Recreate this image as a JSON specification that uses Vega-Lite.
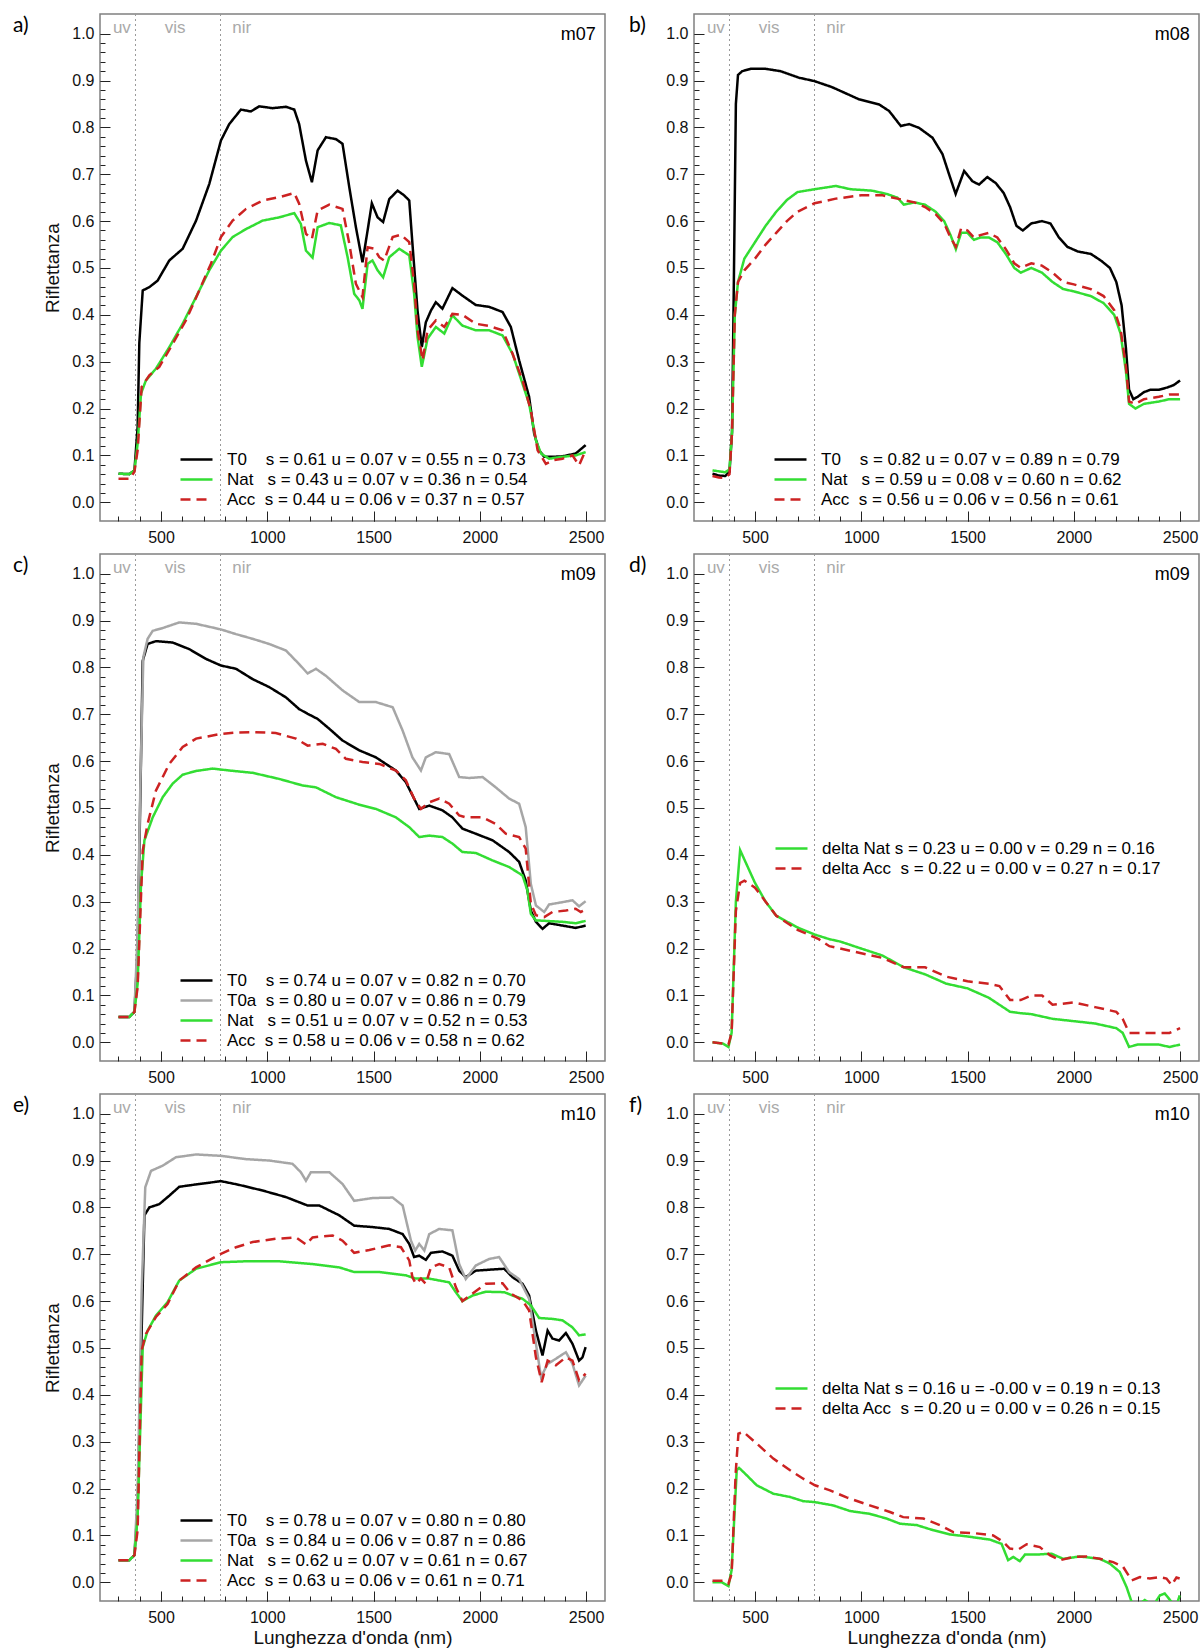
{
"$schema": "https://vega.github.io/schema/vega-lite/v6.json",
"background": "white",
"padding": {"left": 12, "top": 12, "right": 0, "bottom": 0},
"autosize": {"type": "pad"},
"bounds": "flush",
"columns": 2,
"spacing": {"row": 33, "column": 89},
"resolve": {"scale": {"x": "independent", "y": "independent", "color": "independent", "strokeDash": "independent"}},
"config": {
  "view": {"stroke": "#808080", "strokeWidth": 1.5},
  "font": "Liberation Sans",
  "text": {"font": "Liberation Sans"},
  "axis": {"domain": false, "grid": false, "tickColor": "#222", "tickWidth": 1, "labelFont": "Liberation Sans", "labelFontSize": 16, "labelColor": "#111", "titleFont": "Liberation Sans", "titleFontSize": 19, "titleFontWeight": "normal", "titleColor": "#111", "labelOverlap": false, "labelFlush": false}
},
"datasets": {
  "bnd": [{"b": 380}, {"b": 780}],
  "reg": [{"t": "uv", "x": 316}, {"t": "vis", "x": 566}, {"t": "nir", "x": 880}],
  "a": [
{"s":"T0","x":300,"y":0.061},{"s":"T0","x":351,"y":0.060},{"s":"T0","x":375,"y":0.068},{"s":"T0","x":390,"y":0.16},{"s":"T0","x":398,"y":0.34},{"s":"T0","x":414,"y":0.452},{"s":"T0","x":445,"y":0.459},{"s":"T0","x":484,"y":0.473},{"s":"T0","x":539,"y":0.516},{"s":"T0","x":602,"y":0.541},{"s":"T0","x":665,"y":0.601},{"s":"T0","x":727,"y":0.679},{"s":"T0","x":782,"y":0.772},{"s":"T0","x":821,"y":0.807},{"s":"T0","x":876,"y":0.838},{"s":"T0","x":923,"y":0.834},{"s":"T0","x":962,"y":0.845},{"s":"T0","x":1025,"y":0.841},{"s":"T0","x":1088,"y":0.844},{"s":"T0","x":1127,"y":0.838},{"s":"T0","x":1150,"y":0.807},{"s":"T0","x":1182,"y":0.729},{"s":"T0","x":1210,"y":0.683},{"s":"T0","x":1237,"y":0.751},{"s":"T0","x":1276,"y":0.779},{"s":"T0","x":1323,"y":0.775},{"s":"T0","x":1354,"y":0.765},{"s":"T0","x":1386,"y":0.672},{"s":"T0","x":1417,"y":0.587},{"s":"T0","x":1448,"y":0.512},{"s":"T0","x":1472,"y":0.580},{"s":"T0","x":1492,"y":0.638},{"s":"T0","x":1519,"y":0.608},{"s":"T0","x":1545,"y":0.598},{"s":"T0","x":1574,"y":0.647},{"s":"T0","x":1613,"y":0.665},{"s":"T0","x":1644,"y":0.655},{"s":"T0","x":1668,"y":0.644},{"s":"T0","x":1683,"y":0.552},{"s":"T0","x":1707,"y":0.409},{"s":"T0","x":1727,"y":0.331},{"s":"T0","x":1746,"y":0.384},{"s":"T0","x":1770,"y":0.409},{"s":"T0","x":1793,"y":0.427},{"s":"T0","x":1824,"y":0.413},{"s":"T0","x":1871,"y":0.457},{"s":"T0","x":1918,"y":0.441},{"s":"T0","x":1981,"y":0.421},{"s":"T0","x":2044,"y":0.417},{"s":"T0","x":2107,"y":0.406},{"s":"T0","x":2146,"y":0.374},{"s":"T0","x":2185,"y":0.303},{"s":"T0","x":2232,"y":0.225},{"s":"T0","x":2256,"y":0.146},{"s":"T0","x":2279,"y":0.111},{"s":"T0","x":2303,"y":0.097},{"s":"T0","x":2342,"y":0.097},{"s":"T0","x":2389,"y":0.098},{"s":"T0","x":2451,"y":0.104},{"s":"T0","x":2498,"y":0.122},
{"s":"Nat","x":300,"y":0.061},{"s":"Nat","x":351,"y":0.060},{"s":"Nat","x":375,"y":0.068},{"s":"Nat","x":390,"y":0.125},{"s":"Nat","x":406,"y":0.232},{"s":"Nat","x":429,"y":0.26},{"s":"Nat","x":476,"y":0.285},{"s":"Nat","x":539,"y":0.331},{"s":"Nat","x":602,"y":0.381},{"s":"Nat","x":665,"y":0.438},{"s":"Nat","x":727,"y":0.495},{"s":"Nat","x":782,"y":0.537},{"s":"Nat","x":837,"y":0.566},{"s":"Nat","x":900,"y":0.583},{"s":"Nat","x":978,"y":0.601},{"s":"Nat","x":1056,"y":0.608},{"s":"Nat","x":1127,"y":0.617},{"s":"Nat","x":1158,"y":0.594},{"s":"Nat","x":1182,"y":0.537},{"s":"Nat","x":1213,"y":0.522},{"s":"Nat","x":1237,"y":0.587},{"s":"Nat","x":1292,"y":0.596},{"s":"Nat","x":1346,"y":0.591},{"s":"Nat","x":1378,"y":0.523},{"s":"Nat","x":1409,"y":0.445},{"s":"Nat","x":1433,"y":0.431},{"s":"Nat","x":1448,"y":0.413},{"s":"Nat","x":1472,"y":0.509},{"s":"Nat","x":1495,"y":0.516},{"s":"Nat","x":1519,"y":0.495},{"s":"Nat","x":1545,"y":0.480},{"s":"Nat","x":1574,"y":0.523},{"s":"Nat","x":1621,"y":0.541},{"s":"Nat","x":1668,"y":0.527},{"s":"Nat","x":1691,"y":0.445},{"s":"Nat","x":1707,"y":0.353},{"s":"Nat","x":1727,"y":0.289},{"s":"Nat","x":1754,"y":0.349},{"s":"Nat","x":1793,"y":0.374},{"s":"Nat","x":1833,"y":0.36},{"s":"Nat","x":1871,"y":0.399},{"s":"Nat","x":1918,"y":0.377},{"s":"Nat","x":1981,"y":0.367},{"s":"Nat","x":2044,"y":0.367},{"s":"Nat","x":2107,"y":0.356},{"s":"Nat","x":2154,"y":0.317},{"s":"Nat","x":2201,"y":0.253},{"s":"Nat","x":2232,"y":0.210},{"s":"Nat","x":2264,"y":0.132},{"s":"Nat","x":2288,"y":0.104},{"s":"Nat","x":2326,"y":0.093},{"s":"Nat","x":2389,"y":0.097},{"s":"Nat","x":2451,"y":0.10},{"s":"Nat","x":2498,"y":0.107},
{"s":"Acc","x":300,"y":0.050},{"s":"Acc","x":351,"y":0.050},{"s":"Acc","x":375,"y":0.065},{"s":"Acc","x":390,"y":0.111},{"s":"Acc","x":409,"y":0.246},{"s":"Acc","x":445,"y":0.271},{"s":"Acc","x":492,"y":0.289},{"s":"Acc","x":555,"y":0.338},{"s":"Acc","x":617,"y":0.388},{"s":"Acc","x":680,"y":0.452},{"s":"Acc","x":735,"y":0.509},{"s":"Acc","x":782,"y":0.566},{"s":"Acc","x":837,"y":0.601},{"s":"Acc","x":900,"y":0.626},{"s":"Acc","x":978,"y":0.644},{"s":"Acc","x":1056,"y":0.651},{"s":"Acc","x":1127,"y":0.660},{"s":"Acc","x":1150,"y":0.637},{"s":"Acc","x":1182,"y":0.573},{"s":"Acc","x":1210,"y":0.562},{"s":"Acc","x":1237,"y":0.623},{"s":"Acc","x":1292,"y":0.635},{"s":"Acc","x":1354,"y":0.626},{"s":"Acc","x":1386,"y":0.552},{"s":"Acc","x":1417,"y":0.466},{"s":"Acc","x":1448,"y":0.438},{"s":"Acc","x":1472,"y":0.544},{"s":"Acc","x":1503,"y":0.541},{"s":"Acc","x":1527,"y":0.523},{"s":"Acc","x":1550,"y":0.516},{"s":"Acc","x":1590,"y":0.566},{"s":"Acc","x":1629,"y":0.571},{"s":"Acc","x":1668,"y":0.555},{"s":"Acc","x":1691,"y":0.466},{"s":"Acc","x":1707,"y":0.367},{"s":"Acc","x":1731,"y":0.303},{"s":"Acc","x":1754,"y":0.367},{"s":"Acc","x":1793,"y":0.388},{"s":"Acc","x":1833,"y":0.374},{"s":"Acc","x":1871,"y":0.402},{"s":"Acc","x":1918,"y":0.40},{"s":"Acc","x":1981,"y":0.381},{"s":"Acc","x":2044,"y":0.376},{"s":"Acc","x":2107,"y":0.367},{"s":"Acc","x":2154,"y":0.317},{"s":"Acc","x":2201,"y":0.26},{"s":"Acc","x":2240,"y":0.196},{"s":"Acc","x":2272,"y":0.111},{"s":"Acc","x":2311,"y":0.082},{"s":"Acc","x":2350,"y":0.09},{"s":"Acc","x":2389,"y":0.093},{"s":"Acc","x":2436,"y":0.10},{"s":"Acc","x":2467,"y":0.079},{"s":"Acc","x":2498,"y":0.111}
  ],
  "b": [
{"s":"T0","x":300,"y":0.061},{"s":"T0","x":330,"y":0.057},{"s":"T0","x":360,"y":0.056},{"s":"T0","x":380,"y":0.065},{"s":"T0","x":392,"y":0.15},{"s":"T0","x":400,"y":0.45},{"s":"T0","x":410,"y":0.85},{"s":"T0","x":420,"y":0.912},{"s":"T0","x":440,"y":0.92},{"s":"T0","x":480,"y":0.925},{"s":"T0","x":550,"y":0.925},{"s":"T0","x":620,"y":0.92},{"s":"T0","x":707,"y":0.906},{"s":"T0","x":778,"y":0.899},{"s":"T0","x":862,"y":0.886},{"s":"T0","x":989,"y":0.860},{"s":"T0","x":1084,"y":0.849},{"s":"T0","x":1131,"y":0.835},{"s":"T0","x":1186,"y":0.803},{"s":"T0","x":1225,"y":0.807},{"s":"T0","x":1272,"y":0.799},{"s":"T0","x":1335,"y":0.778},{"s":"T0","x":1382,"y":0.743},{"s":"T0","x":1413,"y":0.700},{"s":"T0","x":1444,"y":0.658},{"s":"T0","x":1484,"y":0.707},{"s":"T0","x":1523,"y":0.685},{"s":"T0","x":1554,"y":0.678},{"s":"T0","x":1593,"y":0.694},{"s":"T0","x":1633,"y":0.681},{"s":"T0","x":1670,"y":0.66},{"s":"T0","x":1700,"y":0.63},{"s":"T0","x":1730,"y":0.59},{"s":"T0","x":1760,"y":0.58},{"s":"T0","x":1800,"y":0.595},{"s":"T0","x":1850,"y":0.60},{"s":"T0","x":1890,"y":0.595},{"s":"T0","x":1930,"y":0.565},{"s":"T0","x":1970,"y":0.545},{"s":"T0","x":2020,"y":0.535},{"s":"T0","x":2080,"y":0.53},{"s":"T0","x":2130,"y":0.515},{"s":"T0","x":2170,"y":0.50},{"s":"T0","x":2200,"y":0.47},{"s":"T0","x":2225,"y":0.42},{"s":"T0","x":2245,"y":0.33},{"s":"T0","x":2260,"y":0.24},{"s":"T0","x":2280,"y":0.22},{"s":"T0","x":2300,"y":0.225},{"s":"T0","x":2330,"y":0.235},{"s":"T0","x":2360,"y":0.24},{"s":"T0","x":2400,"y":0.24},{"s":"T0","x":2440,"y":0.245},{"s":"T0","x":2470,"y":0.25},{"s":"T0","x":2500,"y":0.26},
{"s":"Nat","x":300,"y":0.068},{"s":"Nat","x":330,"y":0.066},{"s":"Nat","x":360,"y":0.064},{"s":"Nat","x":380,"y":0.07},{"s":"Nat","x":392,"y":0.15},{"s":"Nat","x":405,"y":0.40},{"s":"Nat","x":420,"y":0.47},{"s":"Nat","x":450,"y":0.52},{"s":"Nat","x":500,"y":0.555},{"s":"Nat","x":550,"y":0.59},{"s":"Nat","x":600,"y":0.62},{"s":"Nat","x":650,"y":0.645},{"s":"Nat","x":700,"y":0.662},{"s":"Nat","x":780,"y":0.668},{"s":"Nat","x":880,"y":0.675},{"s":"Nat","x":950,"y":0.668},{"s":"Nat","x":1050,"y":0.665},{"s":"Nat","x":1120,"y":0.658},{"s":"Nat","x":1170,"y":0.65},{"s":"Nat","x":1200,"y":0.635},{"s":"Nat","x":1250,"y":0.64},{"s":"Nat","x":1300,"y":0.635},{"s":"Nat","x":1350,"y":0.62},{"s":"Nat","x":1390,"y":0.60},{"s":"Nat","x":1420,"y":0.57},{"s":"Nat","x":1445,"y":0.54},{"s":"Nat","x":1470,"y":0.575},{"s":"Nat","x":1500,"y":0.575},{"s":"Nat","x":1530,"y":0.56},{"s":"Nat","x":1560,"y":0.565},{"s":"Nat","x":1600,"y":0.565},{"s":"Nat","x":1640,"y":0.555},{"s":"Nat","x":1680,"y":0.53},{"s":"Nat","x":1720,"y":0.50},{"s":"Nat","x":1750,"y":0.49},{"s":"Nat","x":1800,"y":0.50},{"s":"Nat","x":1850,"y":0.49},{"s":"Nat","x":1900,"y":0.47},{"s":"Nat","x":1950,"y":0.455},{"s":"Nat","x":2000,"y":0.45},{"s":"Nat","x":2080,"y":0.44},{"s":"Nat","x":2140,"y":0.425},{"s":"Nat","x":2190,"y":0.40},{"s":"Nat","x":2220,"y":0.36},{"s":"Nat","x":2245,"y":0.28},{"s":"Nat","x":2260,"y":0.21},{"s":"Nat","x":2290,"y":0.20},{"s":"Nat","x":2330,"y":0.21},{"s":"Nat","x":2400,"y":0.215},{"s":"Nat","x":2450,"y":0.22},{"s":"Nat","x":2500,"y":0.22},
{"s":"Acc","x":300,"y":0.056},{"s":"Acc","x":330,"y":0.053},{"s":"Acc","x":360,"y":0.052},{"s":"Acc","x":380,"y":0.06},{"s":"Acc","x":392,"y":0.15},{"s":"Acc","x":405,"y":0.40},{"s":"Acc","x":420,"y":0.47},{"s":"Acc","x":450,"y":0.495},{"s":"Acc","x":500,"y":0.52},{"s":"Acc","x":550,"y":0.55},{"s":"Acc","x":600,"y":0.575},{"s":"Acc","x":650,"y":0.60},{"s":"Acc","x":700,"y":0.62},{"s":"Acc","x":780,"y":0.638},{"s":"Acc","x":880,"y":0.648},{"s":"Acc","x":1000,"y":0.655},{"s":"Acc","x":1100,"y":0.655},{"s":"Acc","x":1200,"y":0.645},{"s":"Acc","x":1250,"y":0.64},{"s":"Acc","x":1300,"y":0.63},{"s":"Acc","x":1350,"y":0.615},{"s":"Acc","x":1390,"y":0.595},{"s":"Acc","x":1420,"y":0.565},{"s":"Acc","x":1445,"y":0.545},{"s":"Acc","x":1470,"y":0.585},{"s":"Acc","x":1500,"y":0.58},{"s":"Acc","x":1530,"y":0.565},{"s":"Acc","x":1560,"y":0.57},{"s":"Acc","x":1600,"y":0.575},{"s":"Acc","x":1640,"y":0.565},{"s":"Acc","x":1680,"y":0.54},{"s":"Acc","x":1720,"y":0.51},{"s":"Acc","x":1750,"y":0.50},{"s":"Acc","x":1800,"y":0.51},{"s":"Acc","x":1850,"y":0.505},{"s":"Acc","x":1900,"y":0.49},{"s":"Acc","x":1950,"y":0.47},{"s":"Acc","x":2000,"y":0.465},{"s":"Acc","x":2080,"y":0.455},{"s":"Acc","x":2140,"y":0.44},{"s":"Acc","x":2190,"y":0.41},{"s":"Acc","x":2220,"y":0.37},{"s":"Acc","x":2245,"y":0.29},{"s":"Acc","x":2260,"y":0.215},{"s":"Acc","x":2290,"y":0.21},{"s":"Acc","x":2330,"y":0.22},{"s":"Acc","x":2400,"y":0.225},{"s":"Acc","x":2450,"y":0.23},{"s":"Acc","x":2500,"y":0.23}
  ],
  "c": [
{"s":"T0","x":300,"y":0.054},{"s":"T0","x":351,"y":0.054},{"s":"T0","x":375,"y":0.065},{"s":"T0","x":390,"y":0.196},{"s":"T0","x":401,"y":0.48},{"s":"T0","x":414,"y":0.814},{"s":"T0","x":437,"y":0.85},{"s":"T0","x":476,"y":0.856},{"s":"T0","x":555,"y":0.853},{"s":"T0","x":633,"y":0.839},{"s":"T0","x":712,"y":0.818},{"s":"T0","x":782,"y":0.804},{"s":"T0","x":853,"y":0.797},{"s":"T0","x":931,"y":0.775},{"s":"T0","x":1009,"y":0.758},{"s":"T0","x":1088,"y":0.736},{"s":"T0","x":1150,"y":0.711},{"s":"T0","x":1190,"y":0.701},{"s":"T0","x":1237,"y":0.690},{"s":"T0","x":1292,"y":0.669},{"s":"T0","x":1354,"y":0.644},{"s":"T0","x":1433,"y":0.623},{"s":"T0","x":1511,"y":0.608},{"s":"T0","x":1605,"y":0.58},{"s":"T0","x":1652,"y":0.555},{"s":"T0","x":1683,"y":0.527},{"s":"T0","x":1715,"y":0.498},{"s":"T0","x":1762,"y":0.505},{"s":"T0","x":1824,"y":0.495},{"s":"T0","x":1871,"y":0.48},{"s":"T0","x":1918,"y":0.456},{"s":"T0","x":1981,"y":0.445},{"s":"T0","x":2060,"y":0.431},{"s":"T0","x":2138,"y":0.406},{"s":"T0","x":2185,"y":0.385},{"s":"T0","x":2216,"y":0.345},{"s":"T0","x":2240,"y":0.281},{"s":"T0","x":2264,"y":0.257},{"s":"T0","x":2295,"y":0.242},{"s":"T0","x":2326,"y":0.254},{"s":"T0","x":2389,"y":0.249},{"s":"T0","x":2451,"y":0.244},{"s":"T0","x":2498,"y":0.249},
{"s":"T0a","x":300,"y":0.054},{"s":"T0a","x":351,"y":0.054},{"s":"T0a","x":375,"y":0.065},{"s":"T0a","x":390,"y":0.232},{"s":"T0a","x":403,"y":0.552},{"s":"T0a","x":417,"y":0.822},{"s":"T0a","x":437,"y":0.861},{"s":"T0a","x":461,"y":0.878},{"s":"T0a","x":508,"y":0.884},{"s":"T0a","x":586,"y":0.896},{"s":"T0a","x":665,"y":0.893},{"s":"T0a","x":782,"y":0.881},{"s":"T0a","x":853,"y":0.871},{"s":"T0a","x":931,"y":0.861},{"s":"T0a","x":1009,"y":0.85},{"s":"T0a","x":1088,"y":0.836},{"s":"T0a","x":1150,"y":0.807},{"s":"T0a","x":1190,"y":0.787},{"s":"T0a","x":1229,"y":0.797},{"s":"T0a","x":1276,"y":0.782},{"s":"T0a","x":1354,"y":0.751},{"s":"T0a","x":1433,"y":0.726},{"s":"T0a","x":1511,"y":0.726},{"s":"T0a","x":1590,"y":0.715},{"s":"T0a","x":1637,"y":0.665},{"s":"T0a","x":1683,"y":0.608},{"s":"T0a","x":1723,"y":0.58},{"s":"T0a","x":1746,"y":0.608},{"s":"T0a","x":1793,"y":0.619},{"s":"T0a","x":1856,"y":0.615},{"s":"T0a","x":1903,"y":0.566},{"s":"T0a","x":1950,"y":0.564},{"s":"T0a","x":2013,"y":0.566},{"s":"T0a","x":2075,"y":0.544},{"s":"T0a","x":2138,"y":0.52},{"s":"T0a","x":2185,"y":0.509},{"s":"T0a","x":2216,"y":0.459},{"s":"T0a","x":2240,"y":0.338},{"s":"T0a","x":2264,"y":0.292},{"s":"T0a","x":2303,"y":0.278},{"s":"T0a","x":2326,"y":0.294},{"s":"T0a","x":2389,"y":0.299},{"s":"T0a","x":2436,"y":0.303},{"s":"T0a","x":2467,"y":0.29},{"s":"T0a","x":2498,"y":0.301},
{"s":"Nat","x":300,"y":0.054},{"s":"Nat","x":351,"y":0.054},{"s":"Nat","x":375,"y":0.065},{"s":"Nat","x":390,"y":0.125},{"s":"Nat","x":406,"y":0.338},{"s":"Nat","x":422,"y":0.431},{"s":"Nat","x":461,"y":0.48},{"s":"Nat","x":508,"y":0.523},{"s":"Nat","x":555,"y":0.552},{"s":"Nat","x":602,"y":0.571},{"s":"Nat","x":665,"y":0.579},{"s":"Nat","x":743,"y":0.584},{"s":"Nat","x":821,"y":0.58},{"s":"Nat","x":931,"y":0.575},{"s":"Nat","x":1056,"y":0.562},{"s":"Nat","x":1166,"y":0.548},{"s":"Nat","x":1229,"y":0.544},{"s":"Nat","x":1323,"y":0.523},{"s":"Nat","x":1433,"y":0.507},{"s":"Nat","x":1511,"y":0.498},{"s":"Nat","x":1605,"y":0.48},{"s":"Nat","x":1668,"y":0.459},{"s":"Nat","x":1715,"y":0.438},{"s":"Nat","x":1762,"y":0.441},{"s":"Nat","x":1824,"y":0.438},{"s":"Nat","x":1871,"y":0.424},{"s":"Nat","x":1918,"y":0.406},{"s":"Nat","x":1981,"y":0.404},{"s":"Nat","x":2060,"y":0.388},{"s":"Nat","x":2138,"y":0.374},{"s":"Nat","x":2201,"y":0.356},{"s":"Nat","x":2224,"y":0.324},{"s":"Nat","x":2240,"y":0.274},{"s":"Nat","x":2264,"y":0.26},{"s":"Nat","x":2311,"y":0.259},{"s":"Nat","x":2389,"y":0.257},{"s":"Nat","x":2451,"y":0.254},{"s":"Nat","x":2498,"y":0.259},
{"s":"Acc","x":300,"y":0.054},{"s":"Acc","x":351,"y":0.054},{"s":"Acc","x":375,"y":0.065},{"s":"Acc","x":390,"y":0.118},{"s":"Acc","x":414,"y":0.409},{"s":"Acc","x":437,"y":0.466},{"s":"Acc","x":476,"y":0.537},{"s":"Acc","x":539,"y":0.594},{"s":"Acc","x":602,"y":0.63},{"s":"Acc","x":665,"y":0.648},{"s":"Acc","x":782,"y":0.658},{"s":"Acc","x":853,"y":0.661},{"s":"Acc","x":931,"y":0.662},{"s":"Acc","x":1040,"y":0.66},{"s":"Acc","x":1135,"y":0.648},{"s":"Acc","x":1190,"y":0.633},{"s":"Acc","x":1261,"y":0.637},{"s":"Acc","x":1323,"y":0.626},{"s":"Acc","x":1370,"y":0.605},{"s":"Acc","x":1448,"y":0.598},{"s":"Acc","x":1527,"y":0.594},{"s":"Acc","x":1605,"y":0.58},{"s":"Acc","x":1652,"y":0.559},{"s":"Acc","x":1691,"y":0.52},{"s":"Acc","x":1723,"y":0.498},{"s":"Acc","x":1762,"y":0.512},{"s":"Acc","x":1809,"y":0.52},{"s":"Acc","x":1856,"y":0.509},{"s":"Acc","x":1903,"y":0.484},{"s":"Acc","x":1934,"y":0.48},{"s":"Acc","x":2013,"y":0.48},{"s":"Acc","x":2075,"y":0.466},{"s":"Acc","x":2122,"y":0.445},{"s":"Acc","x":2185,"y":0.438},{"s":"Acc","x":2216,"y":0.413},{"s":"Acc","x":2240,"y":0.296},{"s":"Acc","x":2264,"y":0.271},{"s":"Acc","x":2303,"y":0.267},{"s":"Acc","x":2342,"y":0.278},{"s":"Acc","x":2405,"y":0.281},{"s":"Acc","x":2451,"y":0.285},{"s":"Acc","x":2475,"y":0.278},{"s":"Acc","x":2498,"y":0.283}
  ],
  "d": [
{"s":"dNat","x":300,"y":0},{"s":"dNat","x":350,"y":-0.003},{"s":"dNat","x":375,"y":-0.01},{"s":"dNat","x":390,"y":0.02},{"s":"dNat","x":410,"y":0.3},{"s":"dNat","x":430,"y":0.41},{"s":"dNat","x":450,"y":0.39},{"s":"dNat","x":500,"y":0.34},{"s":"dNat","x":550,"y":0.30},{"s":"dNat","x":600,"y":0.27},{"s":"dNat","x":700,"y":0.245},{"s":"dNat","x":780,"y":0.23},{"s":"dNat","x":850,"y":0.22},{"s":"dNat","x":900,"y":0.215},{"s":"dNat","x":1000,"y":0.20},{"s":"dNat","x":1100,"y":0.185},{"s":"dNat","x":1200,"y":0.16},{"s":"dNat","x":1300,"y":0.145},{"s":"dNat","x":1400,"y":0.125},{"s":"dNat","x":1500,"y":0.115},{"s":"dNat","x":1600,"y":0.095},{"s":"dNat","x":1700,"y":0.065},{"s":"dNat","x":1750,"y":0.062},{"s":"dNat","x":1800,"y":0.06},{"s":"dNat","x":1900,"y":0.05},{"s":"dNat","x":2000,"y":0.045},{"s":"dNat","x":2100,"y":0.04},{"s":"dNat","x":2200,"y":0.03},{"s":"dNat","x":2230,"y":0.02},{"s":"dNat","x":2260,"y":-0.01},{"s":"dNat","x":2300,"y":-0.005},{"s":"dNat","x":2400,"y":-0.005},{"s":"dNat","x":2450,"y":-0.01},{"s":"dNat","x":2500,"y":-0.005},
{"s":"dAcc","x":300,"y":0},{"s":"dAcc","x":350,"y":-0.003},{"s":"dAcc","x":375,"y":-0.005},{"s":"dAcc","x":390,"y":0.02},{"s":"dAcc","x":410,"y":0.28},{"s":"dAcc","x":430,"y":0.34},{"s":"dAcc","x":450,"y":0.345},{"s":"dAcc","x":500,"y":0.33},{"s":"dAcc","x":550,"y":0.30},{"s":"dAcc","x":600,"y":0.27},{"s":"dAcc","x":700,"y":0.24},{"s":"dAcc","x":800,"y":0.22},{"s":"dAcc","x":850,"y":0.205},{"s":"dAcc","x":900,"y":0.2},{"s":"dAcc","x":1000,"y":0.19},{"s":"dAcc","x":1100,"y":0.18},{"s":"dAcc","x":1200,"y":0.16},{"s":"dAcc","x":1300,"y":0.16},{"s":"dAcc","x":1400,"y":0.14},{"s":"dAcc","x":1500,"y":0.13},{"s":"dAcc","x":1600,"y":0.125},{"s":"dAcc","x":1650,"y":0.12},{"s":"dAcc","x":1700,"y":0.09},{"s":"dAcc","x":1750,"y":0.09},{"s":"dAcc","x":1800,"y":0.10},{"s":"dAcc","x":1850,"y":0.1},{"s":"dAcc","x":1900,"y":0.08},{"s":"dAcc","x":2000,"y":0.085},{"s":"dAcc","x":2100,"y":0.075},{"s":"dAcc","x":2200,"y":0.065},{"s":"dAcc","x":2230,"y":0.05},{"s":"dAcc","x":2260,"y":0.02},{"s":"dAcc","x":2300,"y":0.02},{"s":"dAcc","x":2400,"y":0.02},{"s":"dAcc","x":2450,"y":0.02},{"s":"dAcc","x":2500,"y":0.03}
  ],
  "e": [
{"s":"T0","x":300,"y":0.047},{"s":"T0","x":351,"y":0.047},{"s":"T0","x":375,"y":0.058},{"s":"T0","x":390,"y":0.16},{"s":"T0","x":406,"y":0.48},{"s":"T0","x":422,"y":0.783},{"s":"T0","x":445,"y":0.80},{"s":"T0","x":492,"y":0.807},{"s":"T0","x":539,"y":0.825},{"s":"T0","x":586,"y":0.844},{"s":"T0","x":665,"y":0.849},{"s":"T0","x":782,"y":0.856},{"s":"T0","x":868,"y":0.848},{"s":"T0","x":978,"y":0.836},{"s":"T0","x":1088,"y":0.822},{"s":"T0","x":1150,"y":0.811},{"s":"T0","x":1190,"y":0.804},{"s":"T0","x":1245,"y":0.804},{"s":"T0","x":1339,"y":0.783},{"s":"T0","x":1409,"y":0.761},{"s":"T0","x":1495,"y":0.758},{"s":"T0","x":1574,"y":0.754},{"s":"T0","x":1637,"y":0.743},{"s":"T0","x":1668,"y":0.722},{"s":"T0","x":1691,"y":0.694},{"s":"T0","x":1715,"y":0.697},{"s":"T0","x":1746,"y":0.688},{"s":"T0","x":1770,"y":0.703},{"s":"T0","x":1824,"y":0.706},{"s":"T0","x":1871,"y":0.697},{"s":"T0","x":1903,"y":0.665},{"s":"T0","x":1934,"y":0.651},{"s":"T0","x":1981,"y":0.665},{"s":"T0","x":2044,"y":0.667},{"s":"T0","x":2115,"y":0.669},{"s":"T0","x":2154,"y":0.651},{"s":"T0","x":2201,"y":0.637},{"s":"T0","x":2232,"y":0.612},{"s":"T0","x":2264,"y":0.537},{"s":"T0","x":2295,"y":0.484},{"s":"T0","x":2319,"y":0.537},{"s":"T0","x":2342,"y":0.52},{"s":"T0","x":2373,"y":0.516},{"s":"T0","x":2405,"y":0.532},{"s":"T0","x":2436,"y":0.509},{"s":"T0","x":2467,"y":0.473},{"s":"T0","x":2483,"y":0.48},{"s":"T0","x":2498,"y":0.502},
{"s":"T0a","x":300,"y":0.047},{"s":"T0a","x":351,"y":0.047},{"s":"T0a","x":375,"y":0.058},{"s":"T0a","x":390,"y":0.196},{"s":"T0a","x":409,"y":0.623},{"s":"T0a","x":426,"y":0.843},{"s":"T0a","x":453,"y":0.878},{"s":"T0a","x":508,"y":0.889},{"s":"T0a","x":570,"y":0.907},{"s":"T0a","x":665,"y":0.913},{"s":"T0a","x":782,"y":0.91},{"s":"T0a","x":900,"y":0.903},{"s":"T0a","x":1009,"y":0.9},{"s":"T0a","x":1119,"y":0.893},{"s":"T0a","x":1158,"y":0.875},{"s":"T0a","x":1182,"y":0.857},{"s":"T0a","x":1205,"y":0.875},{"s":"T0a","x":1292,"y":0.875},{"s":"T0a","x":1354,"y":0.85},{"s":"T0a","x":1409,"y":0.814},{"s":"T0a","x":1495,"y":0.82},{"s":"T0a","x":1590,"y":0.821},{"s":"T0a","x":1637,"y":0.804},{"s":"T0a","x":1676,"y":0.729},{"s":"T0a","x":1696,"y":0.708},{"s":"T0a","x":1715,"y":0.722},{"s":"T0a","x":1739,"y":0.708},{"s":"T0a","x":1762,"y":0.743},{"s":"T0a","x":1809,"y":0.754},{"s":"T0a","x":1871,"y":0.751},{"s":"T0a","x":1903,"y":0.679},{"s":"T0a","x":1934,"y":0.647},{"s":"T0a","x":1981,"y":0.676},{"s":"T0a","x":2044,"y":0.69},{"s":"T0a","x":2091,"y":0.694},{"s":"T0a","x":2138,"y":0.662},{"s":"T0a","x":2185,"y":0.647},{"s":"T0a","x":2232,"y":0.605},{"s":"T0a","x":2264,"y":0.509},{"s":"T0a","x":2288,"y":0.438},{"s":"T0a","x":2319,"y":0.466},{"s":"T0a","x":2358,"y":0.477},{"s":"T0a","x":2405,"y":0.491},{"s":"T0a","x":2436,"y":0.466},{"s":"T0a","x":2467,"y":0.42},{"s":"T0a","x":2498,"y":0.441},
{"s":"Nat","x":300,"y":0.047},{"s":"Nat","x":351,"y":0.047},{"s":"Nat","x":375,"y":0.058},{"s":"Nat","x":390,"y":0.139},{"s":"Nat","x":414,"y":0.502},{"s":"Nat","x":437,"y":0.537},{"s":"Nat","x":476,"y":0.569},{"s":"Nat","x":531,"y":0.598},{"s":"Nat","x":586,"y":0.644},{"s":"Nat","x":665,"y":0.669},{"s":"Nat","x":782,"y":0.683},{"s":"Nat","x":900,"y":0.685},{"s":"Nat","x":1056,"y":0.685},{"s":"Nat","x":1213,"y":0.679},{"s":"Nat","x":1339,"y":0.672},{"s":"Nat","x":1409,"y":0.662},{"s":"Nat","x":1527,"y":0.662},{"s":"Nat","x":1652,"y":0.655},{"s":"Nat","x":1699,"y":0.648},{"s":"Nat","x":1762,"y":0.648},{"s":"Nat","x":1856,"y":0.64},{"s":"Nat","x":1887,"y":0.619},{"s":"Nat","x":1918,"y":0.60},{"s":"Nat","x":1966,"y":0.612},{"s":"Nat","x":2028,"y":0.62},{"s":"Nat","x":2115,"y":0.619},{"s":"Nat","x":2154,"y":0.612},{"s":"Nat","x":2201,"y":0.605},{"s":"Nat","x":2240,"y":0.591},{"s":"Nat","x":2279,"y":0.564},{"s":"Nat","x":2342,"y":0.562},{"s":"Nat","x":2389,"y":0.559},{"s":"Nat","x":2436,"y":0.544},{"s":"Nat","x":2467,"y":0.527},{"s":"Nat","x":2498,"y":0.529},
{"s":"Acc","x":300,"y":0.047},{"s":"Acc","x":351,"y":0.047},{"s":"Acc","x":375,"y":0.058},{"s":"Acc","x":390,"y":0.111},{"s":"Acc","x":409,"y":0.495},{"s":"Acc","x":429,"y":0.53},{"s":"Acc","x":476,"y":0.566},{"s":"Acc","x":531,"y":0.594},{"s":"Acc","x":586,"y":0.644},{"s":"Acc","x":665,"y":0.672},{"s":"Acc","x":782,"y":0.701},{"s":"Acc","x":853,"y":0.715},{"s":"Acc","x":931,"y":0.726},{"s":"Acc","x":1040,"y":0.733},{"s":"Acc","x":1135,"y":0.736},{"s":"Acc","x":1182,"y":0.721},{"s":"Acc","x":1213,"y":0.736},{"s":"Acc","x":1307,"y":0.74},{"s":"Acc","x":1354,"y":0.729},{"s":"Acc","x":1409,"y":0.703},{"s":"Acc","x":1480,"y":0.709},{"s":"Acc","x":1574,"y":0.719},{"s":"Acc","x":1629,"y":0.715},{"s":"Acc","x":1668,"y":0.687},{"s":"Acc","x":1683,"y":0.651},{"s":"Acc","x":1699,"y":0.637},{"s":"Acc","x":1723,"y":0.648},{"s":"Acc","x":1746,"y":0.637},{"s":"Acc","x":1770,"y":0.672},{"s":"Acc","x":1809,"y":0.679},{"s":"Acc","x":1856,"y":0.672},{"s":"Acc","x":1887,"y":0.63},{"s":"Acc","x":1918,"y":0.60},{"s":"Acc","x":1966,"y":0.616},{"s":"Acc","x":2028,"y":0.637},{"s":"Acc","x":2107,"y":0.638},{"s":"Acc","x":2146,"y":0.616},{"s":"Acc","x":2201,"y":0.601},{"s":"Acc","x":2232,"y":0.58},{"s":"Acc","x":2264,"y":0.48},{"s":"Acc","x":2291,"y":0.427},{"s":"Acc","x":2319,"y":0.473},{"s":"Acc","x":2358,"y":0.463},{"s":"Acc","x":2405,"y":0.48},{"s":"Acc","x":2436,"y":0.473},{"s":"Acc","x":2467,"y":0.431},{"s":"Acc","x":2498,"y":0.445}
  ],
  "f": [
{"s":"dNat","x":300,"y":0},{"s":"dNat","x":343,"y":0},{"s":"dNat","x":375,"y":-0.008},{"s":"dNat","x":390,"y":0.026},{"s":"dNat","x":414,"y":0.239},{"s":"dNat","x":425,"y":0.244},{"s":"dNat","x":453,"y":0.232},{"s":"dNat","x":508,"y":0.207},{"s":"dNat","x":586,"y":0.189},{"s":"dNat","x":665,"y":0.182},{"s":"dNat","x":727,"y":0.173},{"s":"dNat","x":782,"y":0.171},{"s":"dNat","x":868,"y":0.164},{"s":"dNat","x":947,"y":0.152},{"s":"dNat","x":1040,"y":0.146},{"s":"dNat","x":1119,"y":0.136},{"s":"dNat","x":1182,"y":0.125},{"s":"dNat","x":1261,"y":0.122},{"s":"dNat","x":1339,"y":0.111},{"s":"dNat","x":1417,"y":0.102},{"s":"dNat","x":1495,"y":0.098},{"s":"dNat","x":1605,"y":0.091},{"s":"dNat","x":1660,"y":0.082},{"s":"dNat","x":1691,"y":0.047},{"s":"dNat","x":1715,"y":0.054},{"s":"dNat","x":1746,"y":0.045},{"s":"dNat","x":1770,"y":0.059},{"s":"dNat","x":1824,"y":0.059},{"s":"dNat","x":1895,"y":0.061},{"s":"dNat","x":1950,"y":0.05},{"s":"dNat","x":2028,"y":0.055},{"s":"dNat","x":2122,"y":0.05},{"s":"dNat","x":2169,"y":0.04},{"s":"dNat","x":2216,"y":0.022},{"s":"dNat","x":2248,"y":-0.01},{"s":"dNat","x":2272,"y":-0.042},{"s":"dNat","x":2295,"y":-0.05},{"s":"dNat","x":2334,"y":-0.038},{"s":"dNat","x":2373,"y":-0.05},{"s":"dNat","x":2405,"y":-0.028},{"s":"dNat","x":2428,"y":-0.024},{"s":"dNat","x":2460,"y":-0.042},{"s":"dNat","x":2483,"y":-0.05},{"s":"dNat","x":2498,"y":-0.028},
{"s":"dAcc","x":300,"y":0.003},{"s":"dAcc","x":351,"y":0.003},{"s":"dAcc","x":375,"y":-0.003},{"s":"dAcc","x":390,"y":0.018},{"s":"dAcc","x":409,"y":0.232},{"s":"dAcc","x":422,"y":0.317},{"s":"dAcc","x":445,"y":0.321},{"s":"dAcc","x":508,"y":0.296},{"s":"dAcc","x":586,"y":0.264},{"s":"dAcc","x":665,"y":0.239},{"s":"dAcc","x":727,"y":0.221},{"s":"dAcc","x":782,"y":0.207},{"s":"dAcc","x":853,"y":0.196},{"s":"dAcc","x":931,"y":0.181},{"s":"dAcc","x":1040,"y":0.164},{"s":"dAcc","x":1135,"y":0.15},{"s":"dAcc","x":1197,"y":0.139},{"s":"dAcc","x":1292,"y":0.136},{"s":"dAcc","x":1370,"y":0.122},{"s":"dAcc","x":1433,"y":0.107},{"s":"dAcc","x":1527,"y":0.105},{"s":"dAcc","x":1621,"y":0.10},{"s":"dAcc","x":1668,"y":0.086},{"s":"dAcc","x":1699,"y":0.072},{"s":"dAcc","x":1739,"y":0.07},{"s":"dAcc","x":1778,"y":0.081},{"s":"dAcc","x":1840,"y":0.075},{"s":"dAcc","x":1887,"y":0.058},{"s":"dAcc","x":1934,"y":0.047},{"s":"dAcc","x":1997,"y":0.054},{"s":"dAcc","x":2060,"y":0.055},{"s":"dAcc","x":2122,"y":0.05},{"s":"dAcc","x":2185,"y":0.043},{"s":"dAcc","x":2232,"y":0.033},{"s":"dAcc","x":2272,"y":0.004},{"s":"dAcc","x":2311,"y":0.011},{"s":"dAcc","x":2358,"y":0.008},{"s":"dAcc","x":2405,"y":0.011},{"s":"dAcc","x":2436,"y":0.008},{"s":"dAcc","x":2460,"y":-0.006},{"s":"dAcc","x":2483,"y":0.01},{"s":"dAcc","x":2498,"y":0.008}
  ]
},
"concat": [
{
 "width": 505, "height": 507,
 "title": {"text": "a)", "anchor": "start", "frame": "group", "orient": "top", "dx": -87, "dy": 22, "offset": 0, "baseline": "top", "font": "Lato", "fontSize": 21, "fontWeight": "normal", "color": "#000"},
 "resolve": {"axis": {"x": "independent", "y": "independent"}},
 "layer": [
  {"data": {"name": "bnd"}, "mark": {"type": "rule", "color": "#999", "strokeDash": [2, 3], "strokeWidth": 1}, "encoding": {"x": {"field": "b", "type": "quantitative", "axis": {"orient": "bottom", "title": null, "labels": false, "tickSize": -5, "values": [300,400,500,600,700,800,900,1000,1100,1200,1300,1400,1500,1600,1700,1800,1900,2000,2100,2200,2300,2400,2500]}}}},
  {"data": {"name": "reg"}, "mark": {"type": "text", "fontSize": 17, "color": "#aaa"}, "encoding": {"x": {"field": "x", "type": "quantitative", "axis": null}, "y": {"datum": 1.012, "axis": {"orient": "left", "title": null, "labels": false, "tickSize": -5, "values": [0,0.02,0.04,0.06,0.08,0.1,0.12,0.14,0.16,0.18,0.2,0.22,0.24,0.26,0.28,0.3,0.32,0.34,0.36,0.38,0.4,0.42,0.44,0.46,0.48,0.5,0.52,0.54,0.56,0.58,0.6,0.62,0.64,0.66,0.68,0.7,0.72,0.74,0.76,0.78,0.8,0.82,0.84,0.86,0.88,0.9,0.92,0.94,0.96,0.98,1]}}, "text": {"field": "t"}}},
  {"data": {"values": [{"id": "m07"}]}, "mark": {"type": "text", "align": "right", "fontSize": 18, "color": "#000"}, "encoding": {"x": {"datum": 2545, "axis": null}, "y": {"datum": 0.998, "axis": null}, "text": {"field": "id"}}},
  {"data": {"name": "a"}, "mark": {"type": "line", "strokeWidth": 2.5, "clip": true},
   "encoding": {
    "x": {"field": "x", "type": "quantitative", "scale": {"domain": [213, 2589], "nice": false, "zero": false}, "axis": {"orient": "bottom", "title": null, "values": [500, 1000, 1500, 2000, 2500], "format": "d", "tickSize": -10, "labelPadding": 18}},
    "y": {"field": "y", "type": "quantitative", "scale": {"domain": [-0.04, 1.042], "nice": false, "zero": false}, "axis": {"orient": "left", "title": "Riflettanza", "titlePadding": 9, "values": [0,0.1,0.2,0.3,0.4,0.5,0.6,0.7,0.8,0.9,1], "format": ".1f", "tickSize": -10, "labelPadding": 16}},
    "color": {"field": "s", "type": "nominal", "scale": {"domain": ["T0", "Nat", "Acc"], "range": ["#000000", "#33dd33", "#cc2222"]}, "legend": {"title": null, "orient": "none", "direction": "vertical", "legendX": 79, "legendY": 437, "symbolType": "stroke", "symbolSize": 1024, "symbolStrokeWidth": 2.5, "clipHeight": 17, "rowPadding": 2, "labelFontSize": 17, "labelFont": "Liberation Sans", "labelColor": "#000", "labelLimit": 600, "labelOffset": 13, "padding": 0, "labelExpr": "datum.label == 'T0' ? 'T0\u00a0\u00a0\u00a0\u00a0s = 0.61 u = 0.07 v = 0.55 n = 0.73' : datum.label == 'Nat' ? 'Nat\u00a0\u00a0\u00a0s = 0.43 u = 0.07 v = 0.36 n = 0.54' : 'Acc\u00a0\u00a0s = 0.44 u = 0.06 v = 0.37 n = 0.57'"}},
    "strokeDash": {"field": "s", "type": "nominal", "scale": {"domain": ["T0", "Nat", "Acc"], "range": [[1, 0], [1, 0], [10, 6]]}, "legend": {"title": null, "orient": "none", "direction": "vertical", "legendX": 79, "legendY": 437, "symbolType": "stroke", "symbolSize": 1024, "symbolStrokeWidth": 2.5, "clipHeight": 17, "rowPadding": 2, "labelFontSize": 17, "labelFont": "Liberation Sans", "labelColor": "#000", "labelLimit": 600, "labelOffset": 13, "padding": 0, "labelExpr": "datum.label == 'T0' ? 'T0\u00a0\u00a0\u00a0\u00a0s = 0.61 u = 0.07 v = 0.55 n = 0.73' : datum.label == 'Nat' ? 'Nat\u00a0\u00a0\u00a0s = 0.43 u = 0.07 v = 0.36 n = 0.54' : 'Acc\u00a0\u00a0s = 0.44 u = 0.06 v = 0.37 n = 0.57'"}}
   }}
 ]
},
{
 "width": 505, "height": 507,
 "title": {"text": "b)", "anchor": "start", "frame": "group", "orient": "top", "dx": -65, "dy": 22, "offset": 0, "baseline": "top", "font": "Lato", "fontSize": 21, "fontWeight": "normal", "color": "#000"},
 "resolve": {"axis": {"x": "independent", "y": "independent"}},
 "layer": [
  {"data": {"name": "bnd"}, "mark": {"type": "rule", "color": "#999", "strokeDash": [2, 3], "strokeWidth": 1}, "encoding": {"x": {"field": "b", "type": "quantitative", "axis": {"orient": "bottom", "title": null, "labels": false, "tickSize": -5, "values": [300,400,500,600,700,800,900,1000,1100,1200,1300,1400,1500,1600,1700,1800,1900,2000,2100,2200,2300,2400,2500]}}}},
  {"data": {"name": "reg"}, "mark": {"type": "text", "fontSize": 17, "color": "#aaa"}, "encoding": {"x": {"field": "x", "type": "quantitative", "axis": null}, "y": {"datum": 1.012, "axis": {"orient": "left", "title": null, "labels": false, "tickSize": -5, "values": [0,0.02,0.04,0.06,0.08,0.1,0.12,0.14,0.16,0.18,0.2,0.22,0.24,0.26,0.28,0.3,0.32,0.34,0.36,0.38,0.4,0.42,0.44,0.46,0.48,0.5,0.52,0.54,0.56,0.58,0.6,0.62,0.64,0.66,0.68,0.7,0.72,0.74,0.76,0.78,0.8,0.82,0.84,0.86,0.88,0.9,0.92,0.94,0.96,0.98,1]}}, "text": {"field": "t"}}},
  {"data": {"values": [{"id": "m08"}]}, "mark": {"type": "text", "align": "right", "fontSize": 18, "color": "#000"}, "encoding": {"x": {"datum": 2545, "axis": null}, "y": {"datum": 0.998, "axis": null}, "text": {"field": "id"}}},
  {"data": {"name": "b"}, "mark": {"type": "line", "strokeWidth": 2.5, "clip": true},
   "encoding": {
    "x": {"field": "x", "type": "quantitative", "scale": {"domain": [213, 2589], "nice": false, "zero": false}, "axis": {"orient": "bottom", "title": null, "values": [500, 1000, 1500, 2000, 2500], "format": "d", "tickSize": -10, "labelPadding": 18}},
    "y": {"field": "y", "type": "quantitative", "scale": {"domain": [-0.04, 1.042], "nice": false, "zero": false}, "axis": {"orient": "left", "title": null, "values": [0,0.1,0.2,0.3,0.4,0.5,0.6,0.7,0.8,0.9,1], "format": ".1f", "tickSize": -10, "labelPadding": 16}},
    "color": {"field": "s", "type": "nominal", "scale": {"domain": ["T0", "Nat", "Acc"], "range": ["#000000", "#33dd33", "#cc2222"]}, "legend": {"title": null, "orient": "none", "direction": "vertical", "legendX": 79, "legendY": 437, "symbolType": "stroke", "symbolSize": 1024, "symbolStrokeWidth": 2.5, "clipHeight": 17, "rowPadding": 2, "labelFontSize": 17, "labelFont": "Liberation Sans", "labelColor": "#000", "labelLimit": 600, "labelOffset": 13, "padding": 0, "labelExpr": "datum.label == 'T0' ? 'T0\u00a0\u00a0\u00a0\u00a0s = 0.82 u = 0.07 v = 0.89 n = 0.79' : datum.label == 'Nat' ? 'Nat\u00a0\u00a0\u00a0s = 0.59 u = 0.08 v = 0.60 n = 0.62' : 'Acc\u00a0\u00a0s = 0.56 u = 0.06 v = 0.56 n = 0.61'"}},
    "strokeDash": {"field": "s", "type": "nominal", "scale": {"domain": ["T0", "Nat", "Acc"], "range": [[1, 0], [1, 0], [10, 6]]}, "legend": {"title": null, "orient": "none", "direction": "vertical", "legendX": 79, "legendY": 437, "symbolType": "stroke", "symbolSize": 1024, "symbolStrokeWidth": 2.5, "clipHeight": 17, "rowPadding": 2, "labelFontSize": 17, "labelFont": "Liberation Sans", "labelColor": "#000", "labelLimit": 600, "labelOffset": 13, "padding": 0, "labelExpr": "datum.label == 'T0' ? 'T0\u00a0\u00a0\u00a0\u00a0s = 0.82 u = 0.07 v = 0.89 n = 0.79' : datum.label == 'Nat' ? 'Nat\u00a0\u00a0\u00a0s = 0.59 u = 0.08 v = 0.60 n = 0.62' : 'Acc\u00a0\u00a0s = 0.56 u = 0.06 v = 0.56 n = 0.61'"}}
   }}
 ]
},
{
 "width": 505, "height": 507,
 "title": {"text": "c)", "anchor": "start", "frame": "group", "orient": "top", "dx": -87, "dy": 22, "offset": 0, "baseline": "top", "font": "Lato", "fontSize": 21, "fontWeight": "normal", "color": "#000"},
 "resolve": {"axis": {"x": "independent", "y": "independent"}},
 "layer": [
  {"data": {"name": "bnd"}, "mark": {"type": "rule", "color": "#999", "strokeDash": [2, 3], "strokeWidth": 1}, "encoding": {"x": {"field": "b", "type": "quantitative", "axis": {"orient": "bottom", "title": null, "labels": false, "tickSize": -5, "values": [300,400,500,600,700,800,900,1000,1100,1200,1300,1400,1500,1600,1700,1800,1900,2000,2100,2200,2300,2400,2500]}}}},
  {"data": {"name": "reg"}, "mark": {"type": "text", "fontSize": 17, "color": "#aaa"}, "encoding": {"x": {"field": "x", "type": "quantitative", "axis": null}, "y": {"datum": 1.012, "axis": {"orient": "left", "title": null, "labels": false, "tickSize": -5, "values": [0,0.02,0.04,0.06,0.08,0.1,0.12,0.14,0.16,0.18,0.2,0.22,0.24,0.26,0.28,0.3,0.32,0.34,0.36,0.38,0.4,0.42,0.44,0.46,0.48,0.5,0.52,0.54,0.56,0.58,0.6,0.62,0.64,0.66,0.68,0.7,0.72,0.74,0.76,0.78,0.8,0.82,0.84,0.86,0.88,0.9,0.92,0.94,0.96,0.98,1]}}, "text": {"field": "t"}}},
  {"data": {"values": [{"id": "m09"}]}, "mark": {"type": "text", "align": "right", "fontSize": 18, "color": "#000"}, "encoding": {"x": {"datum": 2545, "axis": null}, "y": {"datum": 0.998, "axis": null}, "text": {"field": "id"}}},
  {"data": {"name": "c"}, "mark": {"type": "line", "strokeWidth": 2.5, "clip": true},
   "encoding": {
    "x": {"field": "x", "type": "quantitative", "scale": {"domain": [213, 2589], "nice": false, "zero": false}, "axis": {"orient": "bottom", "title": null, "values": [500, 1000, 1500, 2000, 2500], "format": "d", "tickSize": -10, "labelPadding": 18}},
    "y": {"field": "y", "type": "quantitative", "scale": {"domain": [-0.04, 1.042], "nice": false, "zero": false}, "axis": {"orient": "left", "title": "Riflettanza", "titlePadding": 9, "values": [0,0.1,0.2,0.3,0.4,0.5,0.6,0.7,0.8,0.9,1], "format": ".1f", "tickSize": -10, "labelPadding": 16}},
    "color": {"field": "s", "type": "nominal", "scale": {"domain": ["T0", "T0a", "Nat", "Acc"], "range": ["#000000", "#a6a6a6", "#33dd33", "#cc2222"]}, "legend": {"title": null, "orient": "none", "direction": "vertical", "legendX": 79, "legendY": 418, "symbolType": "stroke", "symbolSize": 1024, "symbolStrokeWidth": 2.5, "clipHeight": 17, "rowPadding": 2, "labelFontSize": 17, "labelFont": "Liberation Sans", "labelColor": "#000", "labelLimit": 600, "labelOffset": 13, "padding": 0, "labelExpr": "datum.label == 'T0' ? 'T0\u00a0\u00a0\u00a0\u00a0s = 0.74 u = 0.07 v = 0.82 n = 0.70' : datum.label == 'T0a' ? 'T0a\u00a0\u00a0s = 0.80 u = 0.07 v = 0.86 n = 0.79' : datum.label == 'Nat' ? 'Nat\u00a0\u00a0\u00a0s = 0.51 u = 0.07 v = 0.52 n = 0.53' : 'Acc\u00a0\u00a0s = 0.58 u = 0.06 v = 0.58 n = 0.62'"}},
    "strokeDash": {"field": "s", "type": "nominal", "scale": {"domain": ["T0", "T0a", "Nat", "Acc"], "range": [[1, 0], [1, 0], [1, 0], [10, 6]]}, "legend": {"title": null, "orient": "none", "direction": "vertical", "legendX": 79, "legendY": 418, "symbolType": "stroke", "symbolSize": 1024, "symbolStrokeWidth": 2.5, "clipHeight": 17, "rowPadding": 2, "labelFontSize": 17, "labelFont": "Liberation Sans", "labelColor": "#000", "labelLimit": 600, "labelOffset": 13, "padding": 0, "labelExpr": "datum.label == 'T0' ? 'T0\u00a0\u00a0\u00a0\u00a0s = 0.74 u = 0.07 v = 0.82 n = 0.70' : datum.label == 'T0a' ? 'T0a\u00a0\u00a0s = 0.80 u = 0.07 v = 0.86 n = 0.79' : datum.label == 'Nat' ? 'Nat\u00a0\u00a0\u00a0s = 0.51 u = 0.07 v = 0.52 n = 0.53' : 'Acc\u00a0\u00a0s = 0.58 u = 0.06 v = 0.58 n = 0.62'"}}
   }}
 ]
},
{
 "width": 505, "height": 507,
 "title": {"text": "d)", "anchor": "start", "frame": "group", "orient": "top", "dx": -65, "dy": 22, "offset": 0, "baseline": "top", "font": "Lato", "fontSize": 21, "fontWeight": "normal", "color": "#000"},
 "resolve": {"axis": {"x": "independent", "y": "independent"}},
 "layer": [
  {"data": {"name": "bnd"}, "mark": {"type": "rule", "color": "#999", "strokeDash": [2, 3], "strokeWidth": 1}, "encoding": {"x": {"field": "b", "type": "quantitative", "axis": {"orient": "bottom", "title": null, "labels": false, "tickSize": -5, "values": [300,400,500,600,700,800,900,1000,1100,1200,1300,1400,1500,1600,1700,1800,1900,2000,2100,2200,2300,2400,2500]}}}},
  {"data": {"name": "reg"}, "mark": {"type": "text", "fontSize": 17, "color": "#aaa"}, "encoding": {"x": {"field": "x", "type": "quantitative", "axis": null}, "y": {"datum": 1.012, "axis": {"orient": "left", "title": null, "labels": false, "tickSize": -5, "values": [0,0.02,0.04,0.06,0.08,0.1,0.12,0.14,0.16,0.18,0.2,0.22,0.24,0.26,0.28,0.3,0.32,0.34,0.36,0.38,0.4,0.42,0.44,0.46,0.48,0.5,0.52,0.54,0.56,0.58,0.6,0.62,0.64,0.66,0.68,0.7,0.72,0.74,0.76,0.78,0.8,0.82,0.84,0.86,0.88,0.9,0.92,0.94,0.96,0.98,1]}}, "text": {"field": "t"}}},
  {"data": {"values": [{"id": "m09"}]}, "mark": {"type": "text", "align": "right", "fontSize": 18, "color": "#000"}, "encoding": {"x": {"datum": 2545, "axis": null}, "y": {"datum": 0.998, "axis": null}, "text": {"field": "id"}}},
  {"data": {"name": "d"}, "mark": {"type": "line", "strokeWidth": 2.5, "clip": true},
   "encoding": {
    "x": {"field": "x", "type": "quantitative", "scale": {"domain": [213, 2589], "nice": false, "zero": false}, "axis": {"orient": "bottom", "title": null, "values": [500, 1000, 1500, 2000, 2500], "format": "d", "tickSize": -10, "labelPadding": 18}},
    "y": {"field": "y", "type": "quantitative", "scale": {"domain": [-0.04, 1.042], "nice": false, "zero": false}, "axis": {"orient": "left", "title": null, "values": [0,0.1,0.2,0.3,0.4,0.5,0.6,0.7,0.8,0.9,1], "format": ".1f", "tickSize": -10, "labelPadding": 16}},
    "color": {"field": "s", "type": "nominal", "scale": {"domain": ["dNat", "dAcc"], "range": ["#33dd33", "#cc2222"]}, "legend": {"title": null, "orient": "none", "direction": "vertical", "legendX": 80, "legendY": 286, "symbolType": "stroke", "symbolSize": 1024, "symbolStrokeWidth": 2.5, "clipHeight": 17, "rowPadding": 2, "labelFontSize": 17, "labelFont": "Liberation Sans", "labelColor": "#000", "labelLimit": 600, "labelOffset": 13, "padding": 0, "labelExpr": "datum.label == 'dNat' ? 'delta Nat s = 0.23 u = 0.00 v = 0.29 n = 0.16' : 'delta Acc\u00a0\u00a0s = 0.22 u = 0.00 v = 0.27 n = 0.17'"}},
    "strokeDash": {"field": "s", "type": "nominal", "scale": {"domain": ["dNat", "dAcc"], "range": [[1, 0], [10, 6]]}, "legend": {"title": null, "orient": "none", "direction": "vertical", "legendX": 80, "legendY": 286, "symbolType": "stroke", "symbolSize": 1024, "symbolStrokeWidth": 2.5, "clipHeight": 17, "rowPadding": 2, "labelFontSize": 17, "labelFont": "Liberation Sans", "labelColor": "#000", "labelLimit": 600, "labelOffset": 13, "padding": 0, "labelExpr": "datum.label == 'dNat' ? 'delta Nat s = 0.23 u = 0.00 v = 0.29 n = 0.16' : 'delta Acc\u00a0\u00a0s = 0.22 u = 0.00 v = 0.27 n = 0.17'"}}
   }}
 ]
},
{
 "width": 505, "height": 507,
 "title": {"text": "e)", "anchor": "start", "frame": "group", "orient": "top", "dx": -87, "dy": 22, "offset": 0, "baseline": "top", "font": "Lato", "fontSize": 21, "fontWeight": "normal", "color": "#000"},
 "resolve": {"axis": {"x": "independent", "y": "independent"}},
 "layer": [
  {"data": {"name": "bnd"}, "mark": {"type": "rule", "color": "#999", "strokeDash": [2, 3], "strokeWidth": 1}, "encoding": {"x": {"field": "b", "type": "quantitative", "axis": {"orient": "bottom", "title": null, "labels": false, "tickSize": -5, "values": [300,400,500,600,700,800,900,1000,1100,1200,1300,1400,1500,1600,1700,1800,1900,2000,2100,2200,2300,2400,2500]}}}},
  {"data": {"name": "reg"}, "mark": {"type": "text", "fontSize": 17, "color": "#aaa"}, "encoding": {"x": {"field": "x", "type": "quantitative", "axis": null}, "y": {"datum": 1.012, "axis": {"orient": "left", "title": null, "labels": false, "tickSize": -5, "values": [0,0.02,0.04,0.06,0.08,0.1,0.12,0.14,0.16,0.18,0.2,0.22,0.24,0.26,0.28,0.3,0.32,0.34,0.36,0.38,0.4,0.42,0.44,0.46,0.48,0.5,0.52,0.54,0.56,0.58,0.6,0.62,0.64,0.66,0.68,0.7,0.72,0.74,0.76,0.78,0.8,0.82,0.84,0.86,0.88,0.9,0.92,0.94,0.96,0.98,1]}}, "text": {"field": "t"}}},
  {"data": {"values": [{"id": "m10"}]}, "mark": {"type": "text", "align": "right", "fontSize": 18, "color": "#000"}, "encoding": {"x": {"datum": 2545, "axis": null}, "y": {"datum": 0.998, "axis": null}, "text": {"field": "id"}}},
  {"data": {"name": "e"}, "mark": {"type": "line", "strokeWidth": 2.5, "clip": true},
   "encoding": {
    "x": {"field": "x", "type": "quantitative", "scale": {"domain": [213, 2589], "nice": false, "zero": false}, "axis": {"orient": "bottom", "title": "Lunghezza d'onda (nm)", "titlePadding": 3, "values": [500, 1000, 1500, 2000, 2500], "format": "d", "tickSize": -10, "labelPadding": 18}},
    "y": {"field": "y", "type": "quantitative", "scale": {"domain": [-0.04, 1.042], "nice": false, "zero": false}, "axis": {"orient": "left", "title": "Riflettanza", "titlePadding": 9, "values": [0,0.1,0.2,0.3,0.4,0.5,0.6,0.7,0.8,0.9,1], "format": ".1f", "tickSize": -10, "labelPadding": 16}},
    "color": {"field": "s", "type": "nominal", "scale": {"domain": ["T0", "T0a", "Nat", "Acc"], "range": ["#000000", "#a6a6a6", "#33dd33", "#cc2222"]}, "legend": {"title": null, "orient": "none", "direction": "vertical", "legendX": 79, "legendY": 418, "symbolType": "stroke", "symbolSize": 1024, "symbolStrokeWidth": 2.5, "clipHeight": 17, "rowPadding": 2, "labelFontSize": 17, "labelFont": "Liberation Sans", "labelColor": "#000", "labelLimit": 600, "labelOffset": 13, "padding": 0, "labelExpr": "datum.label == 'T0' ? 'T0\u00a0\u00a0\u00a0\u00a0s = 0.78 u = 0.07 v = 0.80 n = 0.80' : datum.label == 'T0a' ? 'T0a\u00a0\u00a0s = 0.84 u = 0.06 v = 0.87 n = 0.86' : datum.label == 'Nat' ? 'Nat\u00a0\u00a0\u00a0s = 0.62 u = 0.07 v = 0.61 n = 0.67' : 'Acc\u00a0\u00a0s = 0.63 u = 0.06 v = 0.61 n = 0.71'"}},
    "strokeDash": {"field": "s", "type": "nominal", "scale": {"domain": ["T0", "T0a", "Nat", "Acc"], "range": [[1, 0], [1, 0], [1, 0], [10, 6]]}, "legend": {"title": null, "orient": "none", "direction": "vertical", "legendX": 79, "legendY": 418, "symbolType": "stroke", "symbolSize": 1024, "symbolStrokeWidth": 2.5, "clipHeight": 17, "rowPadding": 2, "labelFontSize": 17, "labelFont": "Liberation Sans", "labelColor": "#000", "labelLimit": 600, "labelOffset": 13, "padding": 0, "labelExpr": "datum.label == 'T0' ? 'T0\u00a0\u00a0\u00a0\u00a0s = 0.78 u = 0.07 v = 0.80 n = 0.80' : datum.label == 'T0a' ? 'T0a\u00a0\u00a0s = 0.84 u = 0.06 v = 0.87 n = 0.86' : datum.label == 'Nat' ? 'Nat\u00a0\u00a0\u00a0s = 0.62 u = 0.07 v = 0.61 n = 0.67' : 'Acc\u00a0\u00a0s = 0.63 u = 0.06 v = 0.61 n = 0.71'"}}
   }}
 ]
},
{
 "width": 505, "height": 507,
 "title": {"text": "f)", "anchor": "start", "frame": "group", "orient": "top", "dx": -65, "dy": 22, "offset": 0, "baseline": "top", "font": "Lato", "fontSize": 21, "fontWeight": "normal", "color": "#000"},
 "resolve": {"axis": {"x": "independent", "y": "independent"}},
 "layer": [
  {"data": {"name": "bnd"}, "mark": {"type": "rule", "color": "#999", "strokeDash": [2, 3], "strokeWidth": 1}, "encoding": {"x": {"field": "b", "type": "quantitative", "axis": {"orient": "bottom", "title": null, "labels": false, "tickSize": -5, "values": [300,400,500,600,700,800,900,1000,1100,1200,1300,1400,1500,1600,1700,1800,1900,2000,2100,2200,2300,2400,2500]}}}},
  {"data": {"name": "reg"}, "mark": {"type": "text", "fontSize": 17, "color": "#aaa"}, "encoding": {"x": {"field": "x", "type": "quantitative", "axis": null}, "y": {"datum": 1.012, "axis": {"orient": "left", "title": null, "labels": false, "tickSize": -5, "values": [0,0.02,0.04,0.06,0.08,0.1,0.12,0.14,0.16,0.18,0.2,0.22,0.24,0.26,0.28,0.3,0.32,0.34,0.36,0.38,0.4,0.42,0.44,0.46,0.48,0.5,0.52,0.54,0.56,0.58,0.6,0.62,0.64,0.66,0.68,0.7,0.72,0.74,0.76,0.78,0.8,0.82,0.84,0.86,0.88,0.9,0.92,0.94,0.96,0.98,1]}}, "text": {"field": "t"}}},
  {"data": {"values": [{"id": "m10"}]}, "mark": {"type": "text", "align": "right", "fontSize": 18, "color": "#000"}, "encoding": {"x": {"datum": 2545, "axis": null}, "y": {"datum": 0.998, "axis": null}, "text": {"field": "id"}}},
  {"data": {"name": "f"}, "mark": {"type": "line", "strokeWidth": 2.5, "clip": true},
   "encoding": {
    "x": {"field": "x", "type": "quantitative", "scale": {"domain": [213, 2589], "nice": false, "zero": false}, "axis": {"orient": "bottom", "title": "Lunghezza d'onda (nm)", "titlePadding": 3, "values": [500, 1000, 1500, 2000, 2500], "format": "d", "tickSize": -10, "labelPadding": 18}},
    "y": {"field": "y", "type": "quantitative", "scale": {"domain": [-0.04, 1.042], "nice": false, "zero": false}, "axis": {"orient": "left", "title": null, "values": [0,0.1,0.2,0.3,0.4,0.5,0.6,0.7,0.8,0.9,1], "format": ".1f", "tickSize": -10, "labelPadding": 16}},
    "color": {"field": "s", "type": "nominal", "scale": {"domain": ["dNat", "dAcc"], "range": ["#33dd33", "#cc2222"]}, "legend": {"title": null, "orient": "none", "direction": "vertical", "legendX": 80, "legendY": 286, "symbolType": "stroke", "symbolSize": 1024, "symbolStrokeWidth": 2.5, "clipHeight": 17, "rowPadding": 2, "labelFontSize": 17, "labelFont": "Liberation Sans", "labelColor": "#000", "labelLimit": 600, "labelOffset": 13, "padding": 0, "labelExpr": "datum.label == 'dNat' ? 'delta Nat s = 0.16 u = -0.00 v = 0.19 n = 0.13' : 'delta Acc\u00a0\u00a0s = 0.20 u = 0.00 v = 0.26 n = 0.15'"}},
    "strokeDash": {"field": "s", "type": "nominal", "scale": {"domain": ["dNat", "dAcc"], "range": [[1, 0], [10, 6]]}, "legend": {"title": null, "orient": "none", "direction": "vertical", "legendX": 80, "legendY": 286, "symbolType": "stroke", "symbolSize": 1024, "symbolStrokeWidth": 2.5, "clipHeight": 17, "rowPadding": 2, "labelFontSize": 17, "labelFont": "Liberation Sans", "labelColor": "#000", "labelLimit": 600, "labelOffset": 13, "padding": 0, "labelExpr": "datum.label == 'dNat' ? 'delta Nat s = 0.16 u = -0.00 v = 0.19 n = 0.13' : 'delta Acc\u00a0\u00a0s = 0.20 u = 0.00 v = 0.26 n = 0.15'"}}
   }}
 ]
}
]
}
